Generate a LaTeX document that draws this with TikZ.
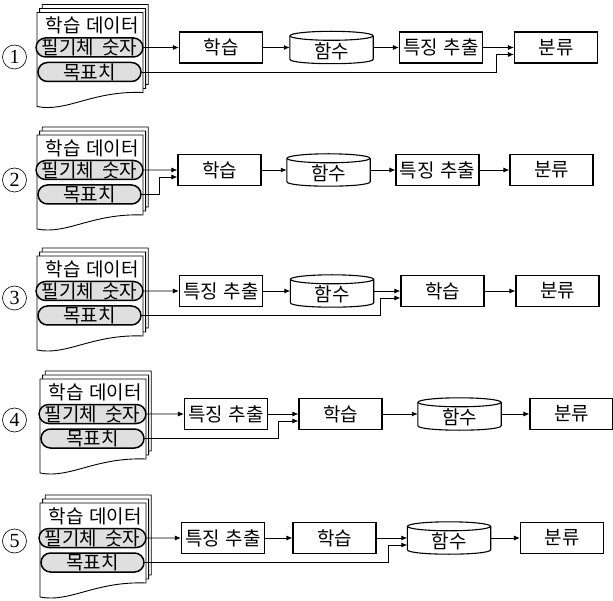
\documentclass[tikz,border=0pt]{standalone}
\usepackage{fontspec}
\setmainfont{Noto Sans CJK KR}
\newfontfamily\numfont{Liberation Serif}
\usetikzlibrary{positioning,calc,arrows.meta,shapes.misc}

\tikzset{
  txt/.style={font=\fontsize{19}{19}\selectfont},
  box/.style={txt,draw,line width=1.1pt,minimum width=83pt,minimum height=31pt,inner sep=0pt},
  drum/.style={txt,minimum width=83pt,minimum height=32pt,inner sep=0pt},
  pill/.style={txt,draw,rounded rectangle,fill=gray!25,line width=1.5pt,
    minimum width=103pt,minimum height=19pt,inner sep=0pt},
  sheet/.style={draw,fill=white,line width=0.9pt},
  num/.style={circle,draw,line width=0.6pt,minimum size=24pt,inner sep=0pt,
    font=\numfont\fontsize{20}{20}\selectfont},
  arr/.style={-{Latex[length=6pt,width=5pt]},line width=0.9pt},
}

% stack of sheets with the two data fields; #1 prefix, (#2,#3) top left
\newcommand\datastack[3]{%
  \foreach \d in {2,1,0}
    \draw[sheet] (#2+2.6*\d,#3-4*\d) -- (#2+2.6*\d+106,#3-4*\d)
      -- (#2+2.6*\d+106,#3-4*\d+80)
      .. controls (#2+2.6*\d+55,#3-4*\d+78) and (#2+2.6*\d+30,#3-4*\d+100)
      .. (#2+2.6*\d,#3-4*\d+94) -- cycle;
  \node[txt,anchor=west] (#1t) at (#2+5,#3+13) {학습\hspace{.3em}데이터};
  \node[pill] (#1h) at (#2+52.5,#3+35) {필기체\hspace{.45em}숫자};
  \node[pill] (#1g) at (#2+52.5,#3+59.5) {목표치};
}

% cylinder drawn round a named node
\newcommand\drawdrum[1]{%
  \draw[line width=1.1pt] ($(#1.north west)+(0,4.5)$) -- ($(#1.south west)+(0,-4.5)$)
    .. controls ($(#1.south west)+(0,1.5)$) and ($(#1.south east)+(0,1.5)$)
    .. ($(#1.south east)+(0,-4.5)$) -- ($(#1.north east)+(0,4.5)$);
  \draw[line width=1.1pt] ($(#1.north)+(0,4.5)$) ellipse [x radius=41.5pt,y radius=4.5pt];
}
\newcommand\drumtext[1]{\raisebox{-3.5pt}[\height][\depth]{#1}}

\begin{document}
\begin{tikzpicture}[x=1pt,y=-1pt]
  \useasboundingbox (0,0) rectangle (613,601);

  % Row 1
  \node[num] (n1) at (14.5,57) {1};
  \datastack{d1}{37}{12.5}
  \node[box] (l1) at (221,47.5) {학습};
  \node[drum] (f1) at (331.5,47.5) {\drumtext{함수}};
  \node[box] (e1) at (441,47.5) {특징\hspace{.3em}추출};
  \node[box] (c1) at (556,47.5) {분류};
  \drawdrum{f1}
  \draw[arr] (d1h) -- (l1);
  \draw[arr] (l1) -- (f1);
  \draw[arr] (f1) -- (e1);
  \draw[arr] (e1) -- (c1);
  \draw[arr] (d1g) -| ($(c1.west)+(-18,7)$) -- ($(c1.west)+(0,7)$);

  % Row 2
  \node[num] (n2) at (14.5,180) {2};
  \datastack{d2}{37}{135}
  \node[box] (l2) at (219.5,170) {학습};
  \node[drum] (f2) at (328.5,170) {\drumtext{함수}};
  \node[box] (e2) at (437.5,170) {특징\hspace{.3em}추출};
  \node[box] (c2) at (551.5,170) {분류};
  \drawdrum{f2}
  \draw[arr] (d2h) -- (l2);
  \draw[arr] (l2) -- (f2);
  \draw[arr] (f2) -- (e2);
  \draw[arr] (e2) -- (c2);
  \draw[arr] (d2g) -| ($(l2.west)+(-18,7)$) -- ($(l2.west)+(0,7)$);

  % Row 3
  \node[num] (n3) at (14.5,298) {3};
  \datastack{d3}{37}{256}
  \node[box] (e3) at (221,291) {특징\hspace{.3em}추출};
  \node[drum] (f3) at (332,291) {\drumtext{함수}};
  \node[box] (l3) at (442.5,291) {학습};
  \node[box] (c3) at (557.5,291) {분류};
  \drawdrum{f3}
  \draw[arr] (d3h) -- (e3);
  \draw[arr] (e3) -- (f3);
  \draw[arr] (f3) -- (l3);
  \draw[arr] (l3) -- (c3);
  \draw[arr] (d3g) -| ($(l3.west)+(-20,7)$) -- ($(l3.west)+(0,7)$);

  % Row 4
  \node[num] (n4) at (14.5,420) {4};
  \datastack{d4}{40}{379}
  \node[box] (e4) at (226,414) {특징\hspace{.3em}추출};
  \node[box] (l4) at (340.5,414) {학습};
  \node[drum] (f4) at (459.5,414) {\drumtext{함수}};
  \node[box] (c4) at (571.5,414) {분류};
  \drawdrum{f4}
  \draw[arr] (d4h) -- (e4);
  \draw[arr] (e4) -- (l4);
  \draw[arr] (l4) -- (f4);
  \draw[arr] (f4) -- (c4);
  \draw[arr] (d4g) -| ($(l4.west)+(-20,7)$) -- ($(l4.west)+(0,7)$);

  % Row 5
  \node[num] (n5) at (14.5,541) {5};
  \datastack{d5}{40}{503}
  \node[box] (e5) at (223,538) {특징\hspace{.3em}추출};
  \node[box] (l5) at (334.5,538) {학습};
  \node[drum] (f5) at (449,538) {\drumtext{함수}};
  \node[box] (c5) at (562,538) {분류};
  \drawdrum{f5}
  \draw[arr] (d5h) -- (e5);
  \draw[arr] (e5) -- (l5);
  \draw[arr] (l5) -- (f5);
  \draw[arr] (f5) -- (c5);
  \draw[arr] (d5g) -| ($(f5.west)+(-19,7)$) -- ($(f5.west)+(0,7)$);
\end{tikzpicture}
\end{document}
